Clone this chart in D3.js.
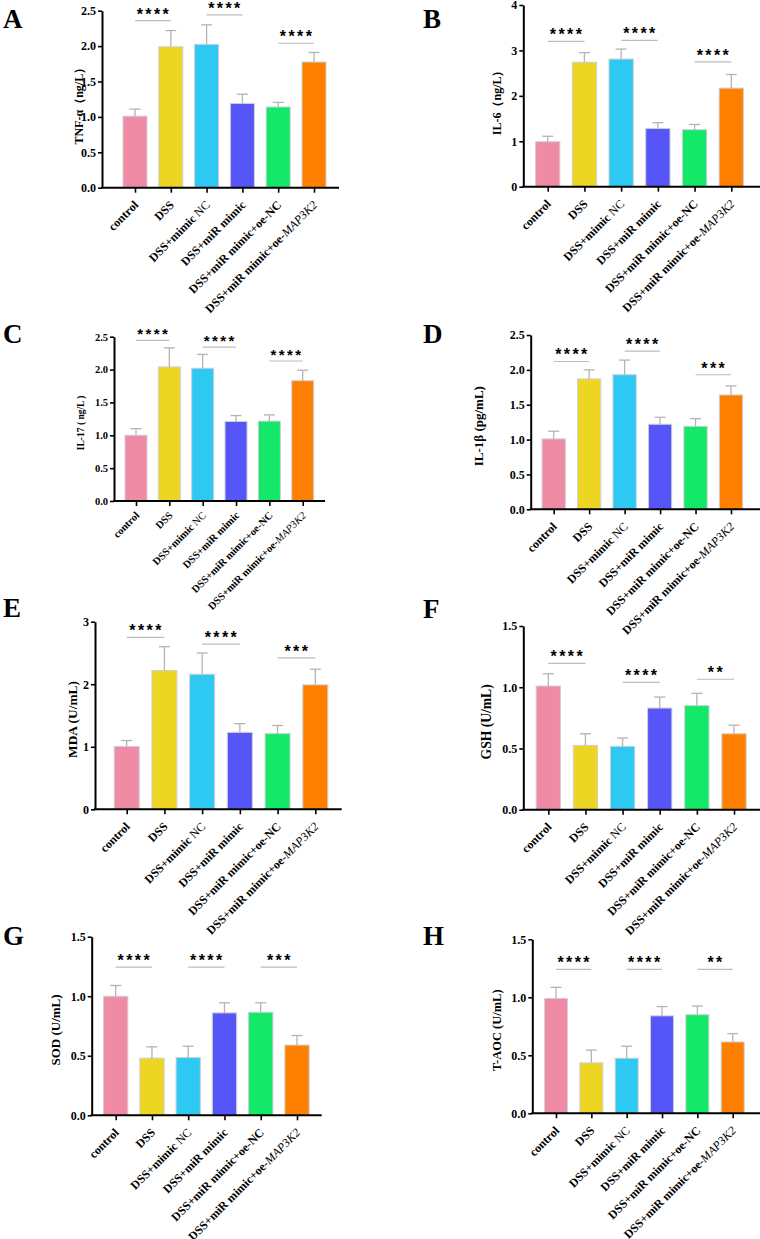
<!DOCTYPE html>
<html>
<head>
<meta charset="utf-8">
<script src="https://cdn.jsdelivr.net/npm/d3@7"></script>
<style>
  body { margin: 0; background: #fff; }
  svg text { font-family: "Liberation Serif", "Times New Roman", serif; font-weight: bold; }
</style>
</head>
<body>
<div id="chart"></div>
<script>
// groups (same for all panels)
const categories = ["control", "DSS", "DSS+mimic NC", "DSS+miR mimic", "DSS+miR mimic+oe-NC", "DSS+miR mimic+oe-MAP3K2"];
const barColors = ["#F08BA5", "#EDD524", "#2EC9F2", "#5656F8", "#13E868", "#FF8000"];

// mean and SD
const tnfMean  = [1.01, 1.99, 2.025, 1.19, 1.14, 1.775];
const tnfSd    = [0.10, 0.23, 0.275, 0.13, 0.065, 0.135];
const il6Mean  = [0.99, 2.74, 2.81, 1.28, 1.255, 2.17];
const il6Sd    = [0.12, 0.21, 0.22, 0.13, 0.115, 0.30];
const il17Mean = [1.00, 2.04, 2.02, 1.21, 1.215, 1.83];
const il17Sd   = [0.10, 0.29, 0.21, 0.09, 0.095, 0.16];
const il1bMean = [1.01, 1.87, 1.93, 1.22, 1.19, 1.64];
const il1bSd   = [0.11, 0.13, 0.21, 0.10, 0.11, 0.13];
const mdaMean  = [1.005, 2.22, 2.16, 1.23, 1.21, 1.99];
const mdaSd    = [0.095, 0.38, 0.34, 0.14, 0.13, 0.25];
const gshMean  = [1.01, 0.525, 0.517, 0.83, 0.85, 0.62];
const gshSd    = [0.10, 0.095, 0.068, 0.09, 0.10, 0.07];
const sodMean  = [1.00, 0.48, 0.485, 0.86, 0.865, 0.59];
const sodSd    = [0.09, 0.095, 0.095, 0.085, 0.08, 0.08];
const taocMean = [0.99, 0.435, 0.475, 0.84, 0.85, 0.615];
const taocSd   = [0.096, 0.11, 0.103, 0.08, 0.075, 0.072];

// significance brackets: [from group, to group, height, stars]
const tnfSig  = [[0, 1, 2.36, "****"], [2, 3, 2.44, "****"], [4, 5, 2.04, "****"]];
const il6Sig  = [[0, 1, 3.2, "****"], [2, 3, 3.22, "****"], [4, 5, 2.75, "****"]];
const il17Sig = [[0, 1, 2.445, "****"], [2, 3, 2.34, "****"], [4, 5, 2.13, "****"]];
const il1bSig = [[0, 1, 2.12, "****"], [2, 3, 2.27, "****"], [4, 5, 1.93, "***"]];
const mdaSig  = [[0, 1, 2.75, "****"], [2, 3, 2.64, "****"], [4, 5, 2.42, "***"]];
const gshSig  = [[0, 1, 1.195, "****"], [2, 3, 1.04, "****"], [4, 5, 1.065, "**"]];
const sodSig  = [[0, 1, 1.245, "****"], [2, 3, 1.245, "****"], [4, 5, 1.245, "***"]];
const taocSig = [[0, 1, 1.24, "****"], [2, 3, 1.24, "****"], [4, 5, 1.24, "**"]];

// y tick labels
const ticks25 = [0, 0.5, 1.0, 1.5, 2.0, 2.5];
const ticks4  = [0, 1, 2, 3, 4];
const ticks3  = [0, 1, 2, 3];
const ticks15 = [0, 0.5, 1.0, 1.5];

const W = 760, H = 1239;
let svg = d3.select("#chart").append("svg")
  .attr("width", W)
  .attr("height", H);

// panel frames (layout only)
let panels = [
  {tag: "A", title: "TNF-α（ng/L）", mean: tnfMean, sd: tnfSd, sig: tnfSig, ticks: ticks25, fmt: ".1f",
   ax: 102, top: 10.7, bot: 187.7, end: 339, c0: 135, c5: 314, bw: 24, tx: 80, fs: 12, lx: 3, ly: 28},
  {tag: "B", title: "IL-6（ng/L）", mean: il6Mean, sd: il6Sd, sig: il6Sig, ticks: ticks4, fmt: "d",
   ax: 523.3, top: 5, bot: 186.7, end: 760, c0: 547.7, c5: 731.3, bw: 24.3, tx: 498, fs: 12, lx: 423, ly: 28},
  {tag: "C", title: "IL-17 ( ng/L )", mean: il17Mean, sd: il17Sd, sig: il17Sig, ticks: ticks25, fmt: ".1f",
   ax: 114, top: 336.7, bot: 501, end: 325, c0: 136, c5: 302.7, bw: 22, tx: 82, fs: 9.5, lx: 3, ly: 343},
  {tag: "D", title: "IL-1β (pg/mL)", mean: il1bMean, sd: il1bSd, sig: il1bSig, ticks: ticks25, fmt: ".1f",
   ax: 530.7, top: 335, bot: 509.3, end: 760, c0: 553.7, c5: 731, bw: 23.3, tx: 480, fs: 13, lx: 423, ly: 343},
  {tag: "E", title: "MDA (U/mL)", mean: mdaMean, sd: mdaSd, sig: mdaSig, ticks: ticks3, fmt: "d",
   ax: 95, top: 621.7, bot: 809.3, end: 341.7, c0: 126.7, c5: 315.3, bw: 25, tx: 74, fs: 13.4, lx: 3, ly: 617},
  {tag: "F", title: "GSH (U/mL)", mean: gshMean, sd: gshSd, sig: gshSig, ticks: ticks15, fmt: ".1f",
   ax: 523.3, top: 626, bot: 809.7, end: 760, c0: 548.3, c5: 734, bw: 24.3, tx: 488, fs: 13.6, lx: 423, ly: 618},
  {tag: "G", title: "SOD (U/mL)", mean: sodMean, sd: sodSd, sig: sodSig, ticks: ticks15, fmt: ".1f",
   ax: 91.7, top: 936.7, bot: 1115.3, end: 321.7, c0: 115.7, c5: 297, bw: 24.3, tx: 57, fs: 13, lx: 3, ly: 945},
  {tag: "H", title: "T-AOC (U/mL)", mean: taocMean, sd: taocSd, sig: taocSig, ticks: ticks15, fmt: ".1f",
   ax: 532.3, top: 939.3, bot: 1113.3, end: 760, c0: 556, c5: 732.7, bw: 23, tx: 498, fs: 12.5, lx: 423, ly: 945}
];

function drawPanel(p) {
  let g = svg.append("g");
  let x = d3.scalePoint().domain(categories).range([p.c0, p.c5]);
  let y = d3.scaleLinear().domain([0, p.ticks[p.ticks.length - 1]]).range([p.bot, p.top]);
  let small = p.tag === "C";

  // panel letter
  g.append("text")
    .attr("x", p.lx).attr("y", p.ly)
    .style("font-size", "27px")
    .text(p.tag);

  // bars
  g.selectAll(".bar")
    .data(categories)
    .enter()
    .append("rect")
    .attr("x", d => x(d) - p.bw / 2)
    .attr("y", (d, i) => y(p.mean[i]))
    .attr("width", p.bw)
    .attr("height", (d, i) => y(0) - y(p.mean[i]))
    .attr("fill", (d, i) => barColors[i])
    .attr("stroke", "#cfcfd6")
    .attr("stroke-width", 1);

  // error bars (upper only)
  let eb = g.selectAll(".err")
    .data(categories)
    .enter()
    .append("g")
    .attr("stroke", "#b4b4b4")
    .attr("stroke-width", 1.3);
  eb.append("line")
    .attr("x1", d => x(d)).attr("x2", d => x(d))
    .attr("y1", (d, i) => y(p.mean[i]))
    .attr("y2", (d, i) => y(p.mean[i] + p.sd[i]));
  eb.append("line")
    .attr("x1", d => x(d) - 5.5).attr("x2", d => x(d) + 5.5)
    .attr("y1", (d, i) => y(p.mean[i] + p.sd[i]))
    .attr("y2", (d, i) => y(p.mean[i] + p.sd[i]));

  // y axis
  let yAxis = g.append("g")
    .attr("transform", `translate(${p.ax},0)`)
    .call(d3.axisLeft(y).tickValues(p.ticks).tickFormat(d3.format(p.fmt)).tickSize(4).tickSizeOuter(0).tickPadding(2));
  yAxis.select(".domain").attr("stroke", "#000").attr("stroke-width", 2);
  yAxis.selectAll(".tick line").attr("stroke", "#000").attr("stroke-width", 1.6);
  yAxis.selectAll(".tick text")
    .attr("fill", "#000")
    .style("font-family", "Liberation Serif, serif")
    .style("font-weight", "bold")
    .style("font-size", small ? "10.5px" : "12px");

  // x axis
  let xAxis = g.append("g")
    .attr("transform", `translate(0,${p.bot})`)
    .call(d3.axisBottom(x).tickSize(5).tickSizeOuter(0).tickFormat(""));
  xAxis.select(".domain").remove();
  xAxis.selectAll(".tick line").attr("stroke", "#000").attr("stroke-width", 1.6);
  g.append("line")
    .attr("x1", p.ax - 1).attr("x2", p.end)
    .attr("y1", p.bot).attr("y2", p.bot)
    .attr("stroke", "#000").attr("stroke-width", 2);

  // x tick labels, rotated
  let lab = g.selectAll(".xlab")
    .data(categories)
    .enter()
    .append("text")
    .attr("text-anchor", "end")
    .attr("transform", d => `translate(${x(d) + 4},${p.bot + (small ? 15 : 18)}) rotate(-45)`)
    .style("font-size", small ? "10.5px" : "12px");
  lab.each(function(d) {
    let t = d3.select(this);
    if (d.endsWith("MAP3K2")) {
      t.append("tspan").text(d.replace("MAP3K2", ""));
      t.append("tspan").style("font-style", "italic").style("font-weight", "normal").text("MAP3K2");
    } else if (d === "DSS+mimic NC") {
      t.append("tspan").text("DSS+mimic ");
      t.append("tspan").style("font-weight", "normal").text("NC");
    } else {
      t.text(d);
    }
  });

  // y title
  g.append("text")
    .attr("text-anchor", "middle")
    .attr("transform", `translate(${p.tx},${(p.top + p.bot) / 2 + 4}) rotate(-90)`)
    .attr("dominant-baseline", "middle")
    .style("font-size", p.fs + "px")
    .text(p.title);

  // significance
  let sg = g.selectAll(".sig")
    .data(p.sig)
    .enter()
    .append("g");
  sg.append("line")
    .attr("x1", d => x(categories[d[0]]))
    .attr("x2", d => x(categories[d[1]]))
    .attr("y1", d => y(d[2])).attr("y2", d => y(d[2]))
    .attr("stroke", "#bdbdbd").attr("stroke-width", 1.2);
  sg.append("text")
    .attr("x", d => (x(categories[d[0]]) + x(categories[d[1]])) / 2 + 1)
    .attr("y", d => y(d[2]) - 1)
    .attr("text-anchor", "middle")
    .style("font-family", "Liberation Sans, Arial, sans-serif")
    .style("font-size", small ? "15px" : "16px")
    .style("letter-spacing", "2.4px")
    .text(d => d[3]);
}

panels.forEach(drawPanel);
</script>
</body>
</html>
